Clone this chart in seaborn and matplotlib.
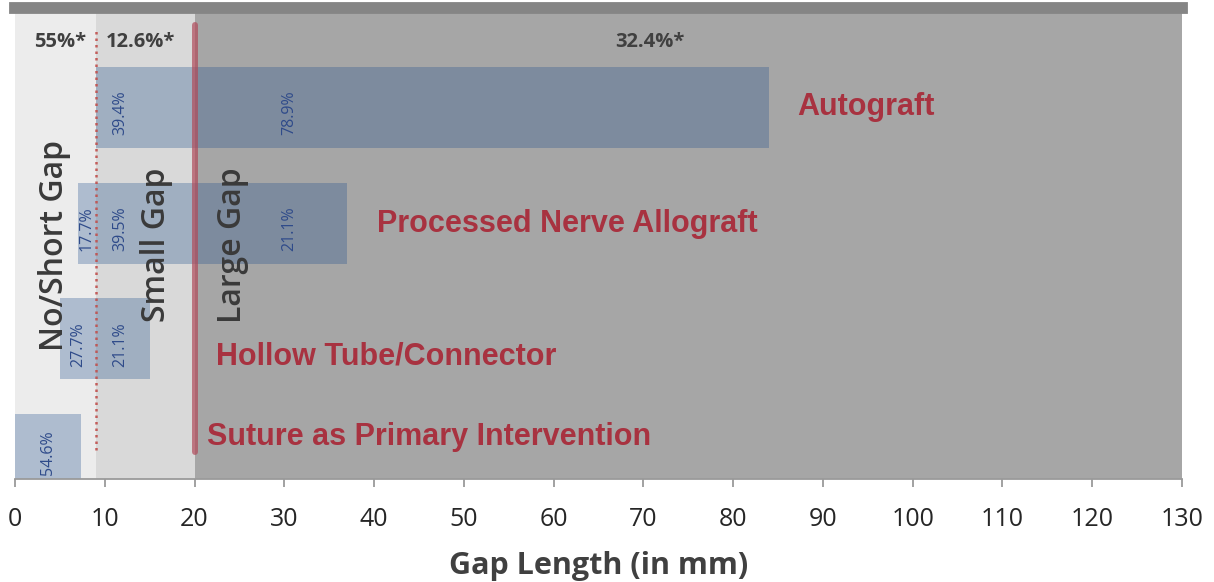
import matplotlib
matplotlib.use("Agg")
import matplotlib.pyplot as plt
import seaborn as sns
import pandas as pd

# ---------------- data ----------------
treatments = ["Autograft", "Processed Nerve Allograft",
              "Hollow Tube/Connector", "Suture as Primary Intervention"]
gap_start = [9, 7, 5, 0]
gap_end = [84, 37, 15, 7.3]
no_short_pct = ["", "17.7%", "27.7%", "54.6%"]
small_pct = ["39.4%", "39.5%", "21.1%", ""]
large_pct = ["78.9%", "21.1%", "", ""]
gap_names = ["No/Short Gap", "Small Gap", "Large Gap"]
gap_share = ["55%*", "12.6%*", "32.4%*"]
gap_bounds = [0, 9, 20, 130]
x_ticks = list(range(0, 131, 10))
x_label = "Gap Length (in mm)"

# ---------------- style ----------------
sns.set_style("white")
plt.rcParams["font.family"] = ["Open Sans", "DejaVu Sans"]

W, H = 1214, 582
fig = plt.figure(figsize=(W / 100, H / 100), dpi=100)
ax = fig.add_axes([15 / W, 1 - 479 / H, 1167 / W, 467 / H])

df = pd.DataFrame({"treatment": treatments, "start": gap_start, "end": gap_end})
sns.barplot(data=df, x="end", y="treatment", orient="h", color="#1f4e8c",
            saturation=1, alpha=0.3, width=0.7, errorbar=None,
            ax=ax, zorder=2, linewidth=0)
bars = ax.containers[0]
for p, s, e in zip(bars, gap_start, gap_end):
    p.set_x(s)
    p.set_width(e - s)

band_colors = ["#ececec", "#d9d9d9", "#a6a6a6"]
for lo, hi, c in zip(gap_bounds[:-1], gap_bounds[1:], band_colors):
    ax.axvspan(lo, hi, color=c, zorder=0, lw=0)

# boundary lines
ax.axvline(gap_bounds[2], ymin=0.058, ymax=0.972, color="#b04a5a", alpha=0.7,
           lw=4.3, zorder=3)
ax.axvline(gap_bounds[1], ymin=0.062, ymax=0.962, color="#c0504d", alpha=0.9,
           lw=1.8, ls=(0, (1, 1.6)), zorder=3)

ax.set_xlim(gap_bounds[0], gap_bounds[-1])
ylo, yhi = 3.21, -0.823
ax.set_ylim(ylo, yhi)

# in-bar percentage labels
pct_kw = dict(rotation=90, ha="center", va="center", color="#2f4b8a",
              fontsize=11.5, zorder=4)
small_x = gap_bounds[1] + 2.7
large_x = 30.6
for i in range(len(treatments)):
    top, bot = i - 0.35, min(i + 0.35, ylo)
    yc = (top + bot) / 2 + 0.05
    if no_short_pct[i]:
        xc = (gap_start[i] + min(gap_end[i], gap_bounds[1])) / 2
        ax.text(xc, yc, no_short_pct[i], **pct_kw)
    if small_pct[i]:
        ax.text(small_x, yc, small_pct[i], **pct_kw)
    if large_pct[i]:
        ax.text(large_x, yc, large_pct[i], **pct_kw)

# treatment labels
lab_x = [87.1, 40.3, 22.4, 21.4]
lab_y = [0.0, 1.01, 2.15, 2.85]
for t, lx, ly in zip(treatments, lab_x, lab_y):
    ax.text(lx, ly, t, ha="left", va="center", color="#a83240",
            fontsize=22, fontweight="bold", family=["Liberation Sans"], zorder=4)

# gap names (vertical)
gn_x = [4.45, 15.8, 24.2]
for name, gx in zip(gap_names, gn_x):
    ax.text(gx, 1.19, name, rotation=90, ha="center", va="center",
            color="#3a3a3a", fontsize=23, fontweight="semibold", zorder=4)

# gap shares at top
gs_x = [5.0, 14.0, 70.7]
for s, gx in zip(gap_share, gs_x):
    ax.text(gx, -0.564, s, ha="center", va="center", color="#404040",
            fontsize=14.5, fontweight="bold", zorder=4)

# axes styling
ax.set_yticks([])
ax.set_ylabel("")
ax.set_xticks(x_ticks)
ax.set_xticklabels([str(v) for v in x_ticks])
ax.tick_params(axis="x", direction="out", length=6, width=1.3, color="#9a9a9a",
               pad=14, bottom=True, labelsize=18, labelcolor="#262626")
ax.set_xlabel(x_label, fontsize=22, fontweight="bold", color="#404040", labelpad=14)
for side in ["left", "right"]:
    ax.spines[side].set_visible(False)
ax.spines["bottom"].set_color("#9a9a9a")
ax.spines["bottom"].set_linewidth(1.3)
ax.spines["top"].set_color("#858585")
ax.spines["top"].set_linewidth(8.5)
ax.spines["top"].set_position(("outward", 3))
ax.spines["top"].set_zorder(5)

fig.savefig("out.png", dpi=100, facecolor="white")
